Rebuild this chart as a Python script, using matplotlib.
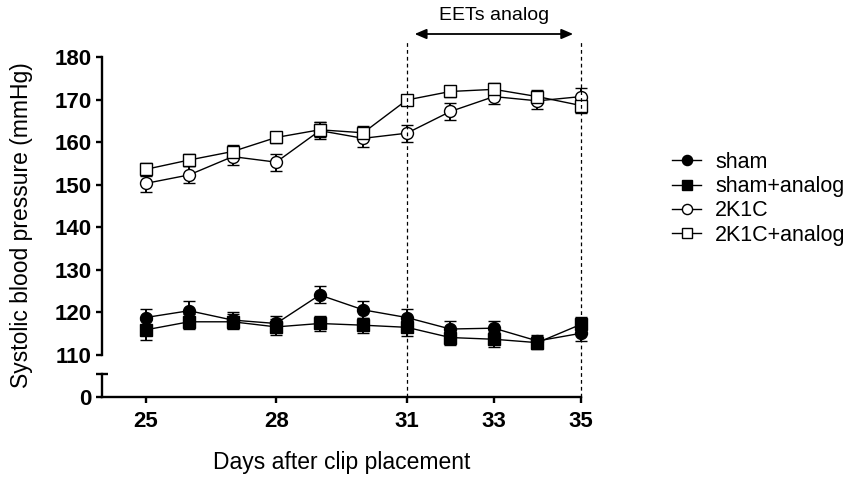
import matplotlib.pyplot as plt
import matplotlib.transforms as mtransforms

plt.rcParams['font.family'] = ['Liberation Sans', 'DejaVu Sans']

days = [25, 26, 27, 28, 29, 30, 31, 32, 33, 34, 35]
xtick_days = [25, 28, 31, 33, 35]

sham = [118.8, 120.4, 118.2, 117.4, 124.1, 120.6, 118.8, 116.1, 116.3, 113.3, 115.1]
sham_err = [2.0, 2.2, 1.8, 1.8, 2.0, 2.0, 2.0, 1.8, 1.8, 1.5, 1.8]
sham_analog = [115.9, 117.8, 117.8, 116.6, 117.4, 117.0, 116.5, 114.1, 113.7, 112.9, 117.2]
sham_analog_err = [2.3, 1.8, 1.8, 1.8, 1.8, 1.8, 2.0, 1.8, 1.8, 1.5, 1.8]
k1c = [150.3, 152.3, 156.6, 155.3, 162.7, 160.9, 162.1, 167.2, 170.7, 169.7, 170.7]
k1c_err = [2.0, 2.0, 2.0, 2.0, 2.0, 2.0, 2.0, 2.0, 1.8, 1.8, 2.0]
k1c_analog = [153.6, 155.8, 157.8, 161.1, 162.9, 162.2, 169.9, 171.9, 172.4, 170.7, 168.6]
k1c_analog_err = [1.5, 1.5, 1.5, 1.2, 1.8, 1.5, 1.2, 1.2, 1.5, 1.5, 1.8]

fig = plt.figure(figsize=(8.58, 4.79), dpi=100)
left, width = 102 / 858, (581 - 102) / 858
ax = fig.add_axes([left, 1 - 355 / 479, width, (355 - 57) / 479])
ax0 = fig.add_axes([left, 1 - 397 / 479, width, (397 - 374) / 479], sharex=ax)

series = [
    (sham, sham_err, 'o', 'black', 'sham'),
    (sham_analog, sham_analog_err, 's', 'black', 'sham+analog'),
    (k1c, k1c_err, 'o', 'white', '2K1C'),
    (k1c_analog, k1c_analog_err, 's', 'white', '2K1C+analog'),
]
handles = []
for vals, err, mk, fc, lab in series:
    ms = 8.6 if mk == 'o' else 8.0
    h = ax.errorbar(days, vals, yerr=err, fmt='-', marker=mk, color='black',
                    mfc=fc, mec='black', ms=ms, mew=1.0, lw=1.0,
                    elinewidth=1.4, capsize=4.0, capthick=1.6, clip_on=False,
                    label=lab)
    for c in h.get_children():
        c.set_clip_on(False)
    handles.append(h[0])

ax.set_ylim(110, 180)
ax.set_xlim(24, 35)
ax.set_yticks(range(110, 181, 10))
ax0.set_ylim(0, 5.4)
ax0.set_yticks([0])
ax0.set_xticks(xtick_days)

for a in (ax, ax0):
    for s in ('top', 'right'):
        a.spines[s].set_visible(False)
    a.spines['left'].set_linewidth(1.7)
    a.spines['bottom'].set_linewidth(1.7)
    a.tick_params(width=1.7, length=4, labelsize=16, direction='out')
    for t in a.get_yticklabels() + a.get_xticklabels():
        t.set_fontweight('bold')
    a.patch.set_visible(False)
ax.spines['bottom'].set_visible(False)
ax.tick_params(axis='x', bottom=False, labelbottom=False)
ax0.tick_params(axis='x', length=4, pad=6)

# cap on top of the lower axis segment
ax0.plot([-0.012, 0.012], [1, 1], transform=ax0.transAxes, color='black',
         lw=1.7, clip_on=False, solid_capstyle='butt')

# dashed lines marking treatment period
trans = mtransforms.blended_transform_factory(ax.transData, fig.transFigure)
for xd in (31, 35):
    fig.add_artist(plt.Line2D([xd, xd], [1 - 397 / 479, 1 - 42 / 479],
                              transform=trans, color='black', lw=0.9,
                              ls=(0, (3, 2.5))))
ax.annotate('', xy=(31.18, 1 - 34 / 479), xytext=(34.82, 1 - 34 / 479),
            xycoords=trans, textcoords=trans,
            arrowprops=dict(arrowstyle='<|-|>,head_length=0.7,head_width=0.3',
                            color='black', lw=1.3, shrinkA=0, shrinkB=0))
ax.text(33, 1 - 16 / 479, 'EETs analog', transform=trans, ha='center',
        va='center', fontsize=14)

fig.text(22 / 858, 1 - 225 / 479, 'Systolic blood pressure (mmHg)',
         rotation=90, ha='center', va='center', fontsize=16.5)
fig.text(342 / 858, 1 - 463 / 479, 'Days after clip placement',
         ha='center', va='center', fontsize=16.5)

fig.legend(handles, [s[4] for s in series], loc='upper left',
           bbox_to_anchor=(672 / 858, 1 - 152 / 479), frameon=False,
           fontsize=15.5, handlelength=1.35, handletextpad=0.65,
           labelspacing=0.15, borderpad=0, borderaxespad=0, markerscale=0.85)

fig.savefig('out.png', dpi=100)
